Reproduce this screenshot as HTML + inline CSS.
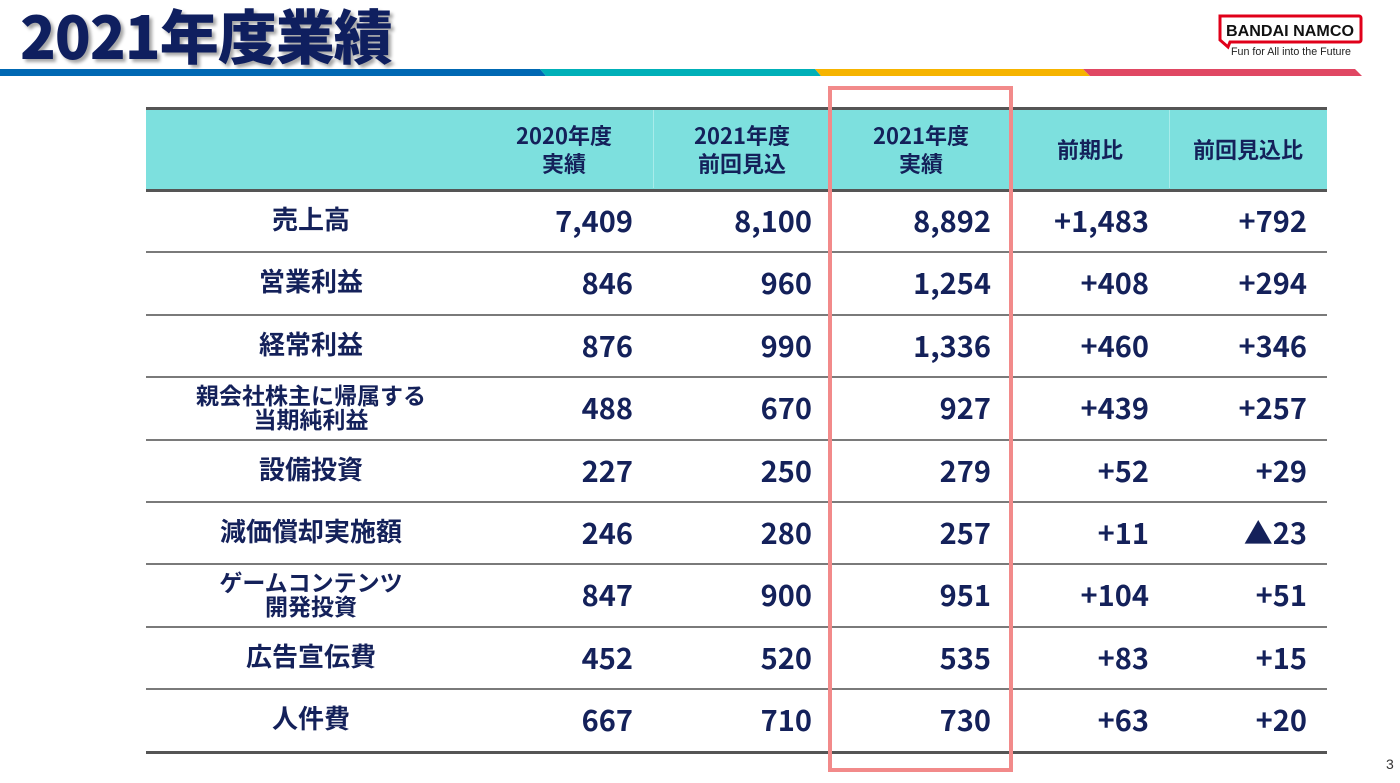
<!DOCTYPE html>
<html><head><meta charset="utf-8"><style>
*{margin:0;padding:0;box-sizing:border-box}
body{width:1400px;height:783px;background:#fff;position:relative;overflow:hidden;font-family:"Liberation Sans","Noto Sans CJK JP",sans-serif;color:#14215a}
.abs{position:absolute}
.title{left:20px;top:-9px;font-size:59px;font-weight:900;color:#0f1f5f;text-shadow:3px 3px 3px rgba(0,0,0,.35);letter-spacing:-1px;font-family:"Noto Sans CJK JP",sans-serif}
.num{font-family:"Noto Sans CJK JP",sans-serif;font-weight:700;font-size:29px;text-align:right;line-height:60px}
.lab{font-family:"Noto Sans CJK JP",sans-serif;font-weight:700;font-size:26px;text-align:center;width:330px;left:146px}
.hd{font-family:"Noto Sans CJK JP",sans-serif;font-weight:700;font-size:22px;text-align:center;line-height:28px}
</style></head><body>
<div class="abs title">2021年度業績</div>
<svg class="abs" style="left:0;top:0" width="1400" height="100">
<polygon points="0,69 540,69 546,76 0,76" fill="#0068b3"/>
<polygon points="540,69 815,69 821,76 546,76" fill="#00b0b8"/>
<polygon points="815,69 1083,69 1090,76 821,76" fill="#f6b400"/>
<polygon points="1083,69 1355,69 1362,76 1090,76" fill="#e04763"/>
<path d="M1220,16 H1359 a2,2 0 0 1 2,2 V40 a2,2 0 0 1 -2,2 H1230 L1228,47 L1220,40 Z" fill="none" stroke="#e0001a" stroke-width="3"/>
<text x="1290" y="36" font-family="Liberation Sans" font-weight="700" font-size="16" text-anchor="middle" fill="#111" textLength="128" lengthAdjust="spacingAndGlyphs">BANDAI NAMCO</text>
<text x="1291" y="55" font-family="Liberation Sans" font-size="11" text-anchor="middle" fill="#222" textLength="120" lengthAdjust="spacingAndGlyphs">Fun for All into the Future</text>
</svg>
<div class="abs" style="left:146px;top:107px;width:1181px;height:85px;background:#7de0de;border-top:3px solid #555;border-bottom:3px solid #555"></div>
<div class="abs" style="left:653px;top:110px;width:1px;height:78px;background:#a8ecea"></div>
<div class="abs" style="left:1169px;top:110px;width:1px;height:78px;background:#a8ecea"></div>
<div class="abs hd" style="left:475px;top:121px;width:178px">2020年度<br>実績</div>
<div class="abs hd" style="left:653px;top:121px;width:178px">2021年度<br>前回見込</div>
<div class="abs hd" style="left:831px;top:121px;width:180px">2021年度<br>実績</div>
<div class="abs hd" style="left:1011px;top:135px;width:158px">前期比</div>
<div class="abs hd" style="left:1169px;top:135px;width:158px">前回見込比</div>
<div id="rows"></div>
<div class="abs" style="left:146px;top:751px;width:1181px;height:3px;background:#555"></div>
<div class="abs" style="left:828px;top:86px;width:185px;height:686px;border:4px solid #f28a8a"></div>
<div class="abs" style="left:1386px;top:756px;font-size:14px;color:#333">3</div>
<script>
var d=[["売上高","7,409","8,100","8,892","+1,483","+792"],
["営業利益","846","960","1,254","+408","+294"],
["経常利益","876","990","1,336","+460","+346"],
["親会社株主に帰属する<br>当期純利益","488","670","927","+439","+257"],
["設備投資","227","250","279","+52","+29"],
["減価償却実施額","246","280","257","+11","▲23"],
["ゲームコンテンツ<br>開発投資","847","900","951","+104","+51"],
["広告宣伝費","452","520","535","+83","+15"],
["人件費","667","710","730","+63","+20"]];
var ends=[633,812,991,1149,1307],h="";
d.forEach(function(r,i){var t=190+i*62.4;
if(i>0)h+='<div class="abs" style="left:146px;top:'+(t-1)+'px;width:1181px;height:2px;background:#7a7a7a"></div>';
var two=r[0].indexOf("<br>")>0;
h+='<div class="abs lab" style="top:'+(t+(two?5:12))+'px;'+(two?'font-size:23px;line-height:24px':'line-height:34px')+'">'+r[0]+'</div>';
for(var j=1;j<6;j++)h+='<div class="abs num" style="left:'+(ends[j-1]-200)+'px;width:200px;top:'+t+'px">'+r[j]+'</div>';});
document.getElementById("rows").innerHTML=h;
</script>
</body></html>
